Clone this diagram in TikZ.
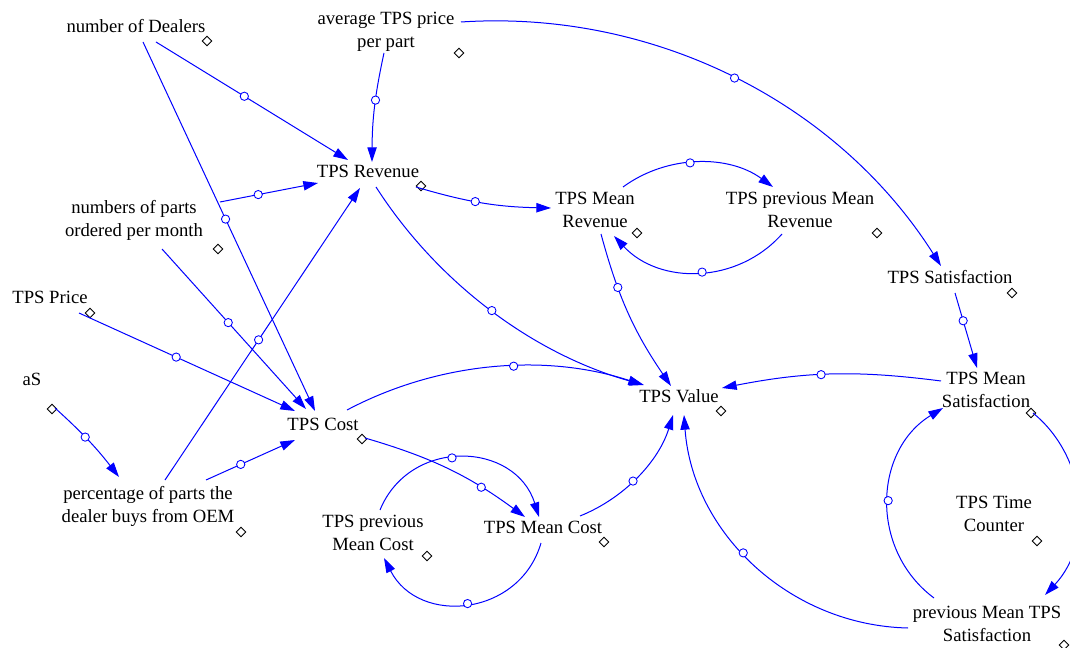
\documentclass[tikz,border=0pt]{standalone}
\usepackage{fontspec}
\setmainfont{Liberation Serif}
\usetikzlibrary{arrows.meta,shapes.geometric}
\definecolor{linkblue}{RGB}{0,0,255}
\begin{document}
\begin{tikzpicture}[x=0.75pt,y=0.75pt,
  var/.style={inner sep=0pt, align=center, text=black,
    font=\fontsize{14}{17.25}\selectfont},
  one/.style={var, text height=9.6pt, text depth=3pt},
  tag/.style={diamond, draw=black, fill=white, line width=0.65pt,
    inner sep=0pt, minimum size=7.5pt},
  handle/.style={circle, draw=linkblue, fill=white, line width=0.65pt,
    inner sep=0pt, minimum size=6.2pt},
  link/.style={draw=linkblue, line width=0.75pt,
    -{Triangle[length=11pt,width=7pt]}},
]
% canvas
\path[fill=white] (0,0) rectangle (1070,-648);
\useasboundingbox (0,0) rectangle (1070,-648);

% variables
\node[one] (dealers)  at (136,-28)  {number of Dealers};
\node[var] (avg)      at (386,-32)  {average TPS price\\per part};
\node[one] (revenue)  at (368,-173) {TPS Revenue};
\node[var] (meanrev)  at (595,-210) {TPS Mean\\Revenue};
\node[var] (prevrev)  at (800,-210) {TPS previous Mean\\Revenue};
\node[var] (parts)    at (134,-220) {numbers of parts\\ordered per month};
\node[one] (price)    at (50,-299)  {TPS Price};
\node[one] (as)       at (32,-381)  {aS};
\node[one] (sat)      at (950,-279) {TPS Satisfaction};
\node[one] (cost)     at (323,-426) {TPS Cost};
\node[one] (value)    at (679,-398) {TPS Value};
\node[var] (meansat)  at (986,-390) {TPS Mean\\Satisfaction};
\node[var] (timer)    at (994,-514) {TPS Time\\Counter};
\node[var] (share)    at (148,-506) {percentage of parts the\\dealer buys from OEM};
\node[var] (prevcost) at (373,-533) {TPS previous\\Mean Cost};
\node[one] (meancost) at (543,-529) {TPS Mean Cost};
\node[var] (prevsat)  at (987,-624) {previous Mean TPS\\Satisfaction};

% selection markers beside each variable
\node[tag] (t1)  at (207,-41)  {};
\node[tag] (t2)  at (459,-53)  {};
\node[tag] (t3)  at (421,-186) {};
\node[tag] (t4)  at (637,-233) {};
\node[tag] (t5)  at (877,-233) {};
\node[tag] (t6)  at (218,-249) {};
\node[tag] (t7)  at (90,-313)  {};
\node[tag] (t8)  at (52,-409)  {};
\node[tag] (t9)  at (1012,-293) {};
\node[tag] (t10) at (362,-439) {};
\node[tag] (t11) at (721,-411) {};
\node[tag] (t12) at (1031,-413) {};
\node[tag] (t13) at (1037,-541) {};
\node[tag] (t14) at (241,-532) {};
\node[tag] (t15) at (427,-556) {};
\node[tag] (t16) at (604,-542) {};
\node[tag] (t17) at (1064,-645) {};

% causal links
\draw[link] ([shift={(20,-14)}]dealers.center) -- node[handle,pos=.46] (h1) {} ([shift={(-20,13)}]revenue.center);
\draw[link] ([shift={(7,-14)}]dealers.center) -- node[handle,pos=.48] (h2) {} ([shift={(-8,15)}]cost.center);
\draw[link] ([shift={(-2,-21)}]avg.center) to[bend right=6] node[handle,pos=.43] (h3) {} ([shift={(4,11)}]revenue.center);
\draw[link] ([shift={(75,10)}]avg.center) to[bend left=30.7,looseness=.92] node[handle,pos=.5] (h4) {} ([shift={(-9,13)}]sat.center);
\draw[link] ([shift={(86,18)}]parts.center) -- node[handle,pos=.39] (h5) {} ([shift={(-50,-10)}]revenue.center);
\draw[link] ([shift={(28,-29)}]parts.center) -- node[handle,pos=.46] (h6) {} ([shift={(-17,17)}]cost.center);
\draw[link] ([shift={(29,-14)}]price.center) -- node[handle,pos=.45] (h7) {} ([shift={(-28,15)}]cost.center);
\draw[link] ([shift={(23,-27)}]as.center) to[bend left=5] node[handle,pos=.44] (h8) {} ([shift={(-29,29)}]share.center);
\draw[link] ([shift={(58,26)}]share.center) -- node[handle,pos=.39] (h9) {} ([shift={(-28,-14)}]cost.center);
\draw[link] ([shift={(17,26)}]share.center) -- node[handle,pos=.48] (h10) {} ([shift={(-8,-15)}]revenue.center);
\draw[link] ([shift={(48,-14)}]revenue.center) to[bend right=7.7] node[handle,pos=.44] (h11) {} ([shift={(-44,2)}]meanrev.center);
\draw[link] ([shift={(28,23)}]meanrev.center) to[bend left=36.2,looseness=.94] node[handle,pos=.45] (h12) {} ([shift={(-27,23)}]prevrev.center);
\draw[link] ([shift={(-18,-24)}]prevrev.center) to[bend left=47.7,looseness=1.02] node[handle,pos=.48] (h13) {} ([shift={(19,-26)}]meanrev.center);
\draw[link] ([shift={(8,-14)}]revenue.center) to[bend right=20.8,looseness=.88] node[handle,pos=.5] (h14) {} ([shift={(-35,13)}]value.center);
\draw[link] ([shift={(6,-24)}]meanrev.center) to[bend right=9.6] node[handle,pos=.32] (h15) {} ([shift={(-8,12)}]value.center);
\draw[link] ([shift={(24,16)}]cost.center) to[bend left=23,looseness=.89] node[handle,pos=.57] (h16) {} ([shift={(-36,13)}]value.center);
\draw[link] ([shift={(42,-12)}]cost.center) to[bend left=10] node[handle,pos=.72] (h17) {} ([shift={(-18,12)}]meancost.center);
\draw[link] ([shift={(7,23)}]prevcost.center) to[bend left=70.2,looseness=1.27] node[handle,pos=.45] (h18) {} ([shift={(-4,12)}]meancost.center);
\draw[link] ([shift={(-2,-14)}]meancost.center) to[bend left=68.3,looseness=1.24] node[handle,pos=.5] (h19) {} ([shift={(11,-25)}]prevcost.center);
\draw[link] ([shift={(37,13)}]meancost.center) to[bend right=25.4,looseness=.9] node[handle,pos=.45] (h20) {} ([shift={(-6,-17)}]value.center);
\draw[link] ([shift={(5,-14)}]sat.center) -- node[handle,pos=.37] (h21) {} ([shift={(-9,22)}]meansat.center);
\draw[link] ([shift={(-45,9)}]meansat.center) to[bend right=9.2] node[handle,pos=.55] (h22) {} ([shift={(43,10)}]value.center);
\draw[link] ([shift={(-79,-4)}]prevsat.center) to[bend left=42.3,looseness=.98] node[handle,pos=.55] (h23) {} ([shift={(5,-17)}]value.center);
\draw[link] ([shift={(-53,26)}]prevsat.center) to[bend left=56,looseness=1.09] node[handle,pos=.5] (h24) {} ([shift={(-43,-18)}]meansat.center);
\draw[link] ([shift={(47,-23)}]meansat.center) to[bend left=47,looseness=1.0] node[handle,pos=.5] (h25) {} ([shift={(58,29)}]prevsat.center);
\end{tikzpicture}
\end{document}
